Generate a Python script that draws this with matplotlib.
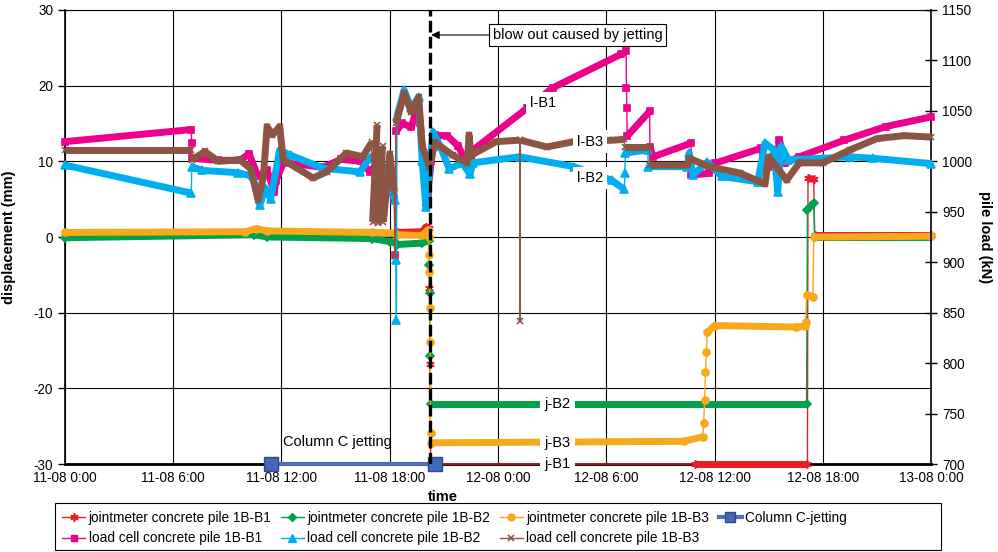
import numpy as np
import matplotlib
matplotlib.use('Agg')
import matplotlib.pyplot as plt
from matplotlib.lines import Line2D
from matplotlib.patches import Rectangle

plt.rcParams['font.family'] = ['Liberation Sans', 'DejaVu Sans']
plt.rcParams['axes.unicode_minus'] = False
plt.rcParams['font.size'] = 9.75

# hours since 11-08 0:00
time_ticks = [0, 6, 12, 18, 24, 30, 36, 42, 48]
time_labels = ['11-08 0:00', '11-08 6:00', '11-08 12:00', '11-08 18:00', '12-08 0:00',
               '12-08 6:00', '12-08 12:00', '12-08 18:00', '13-08 0:00']

# jointmeters (mm)
jb1_h = [0.0, 18.3, 18.4, 19.8, 20.0, 20.15, 20.2, 20.23, 20.27, 34.9, 41.15, 41.18, 41.5, 41.55, 48.0]
jb1_mm = [0.5, 0.5, 0.6, 0.7, 1.3, 1.2, -6.8, -16.8, -30.0, -30.0, -30.0, 7.8, 7.6, 0.2, 0.2]

jb2_h = [0.0, 10.5, 11.2, 17.0, 18.0, 18.3, 18.4, 19.8, 20.15, 20.19, 20.21, 20.24, 20.27,
         41.1, 41.15, 41.5, 41.55, 48.0]
jb2_mm = [-0.1, 0.3, 0.0, -0.2, -0.6, -0.7, -1.0, -0.8, -0.5, -3.7, -7.4, -15.7, -22.1,
          -22.1, 3.6, 4.5, 0.0, 0.0]

jb3_h = [0.0, 10.0, 10.6, 11.2, 17.0, 18.3, 18.4, 19.8, 20.1, 20.15, 20.18, 20.2, 20.22, 20.24,
         20.26, 20.28, 34.3, 35.35, 35.4, 35.45, 35.5, 35.55, 35.6, 36.0, 40.5, 41.0, 41.05,
         41.1, 41.45, 41.5, 48.0]
jb3_mm = [0.6, 0.7, 1.1, 0.8, 0.6, 0.5, 0.3, 0.2, 0.9, 0.0, -2.4, -4.6, -9.4, -13.9,
          -25.9, -27.2, -27.0, -26.4, -24.6, -21.5, -17.8, -15.2, -12.6, -11.7, -11.9, -11.8, -11.2,
          -7.6, -7.9, 0.0, 0.1]

colc_h = [11.4, 20.5]
colc_mm = [-30, -30]

# load cells (kN)
lb1_h = [0.0, 7.0, 7.02, 7.05, 8.5, 9.7, 10.2, 10.7, 11.2, 11.6, 11.7, 12.1, 13.0, 14.3, 15.3,
         16.4, 16.9, 17.3, 17.8, 18.25, 18.3, 18.35, 18.7, 19.2, 19.5, 19.7, 19.9, 20.1, 20.3,
         20.5, 21.2, 21.8, 22.45, 22.6, 25.6, 27.05, 30.8, 31.1, 31.12, 31.14, 31.16, 32.4,
         32.42, 32.6, 34.7, 34.72, 35.7, 36.0, 38.6, 38.8, 39.4, 39.6, 39.9, 40.7, 43.2, 45.5, 48.0]
lb1_kn = [1019.5, 1031.5, 1018, 1003, 1001, 1001, 1007.5, 985, 991, 970, 981, 998.5, 997, 994, 1002,
          1000, 989.5, 998, 981, 962.5, 907, 1030, 1037.5, 1034, 1052.5, 1037.5, 992.5, 968.5, 1000,
          1026, 1025, 1015, 992, 1011, 1052.5, 1073, 1106, 1109, 1073, 1052.5, 1025, 1049.5,
          1014, 1004.5, 1018, 986.5, 988, 998, 1013, 992, 996, 1021, 998, 1004.5, 1021, 1034.5, 1044]

lb2_h = [0.0, 7.0, 7.03, 7.6, 9.6, 10.4, 10.8, 11.1, 11.4, 11.9, 12.5, 14.3, 16.35, 16.9, 17.4,
         17.8, 18.1, 18.3, 18.34, 18.37, 18.4, 18.8, 19.2, 19.6, 19.8, 20.0, 20.2, 20.4, 20.8,
         21.3, 22.0, 22.45, 22.6, 25.2, 28.2, 30.3, 31.0, 31.03, 31.06, 32.3, 32.33, 34.5, 34.6,
         34.8, 35.6, 36.4, 38.4, 38.8, 39.3, 39.5, 39.7, 40.1, 42.0, 43.5, 44.8, 48.0]
lb2_kn = [996.25, 968.5, 994.75, 991, 988.75, 985, 956.5, 973.75, 962.5, 1011.25, 1006, 993.25,
          989.5, 1003.75, 1008.25, 981.25, 970, 961.75, 902.5, 842.5, 1045, 1070.5, 1052.5,
          1063.75, 1000, 955, 992.5, 1029.25, 1015, 992.5, 998.5, 987.25, 998.5, 1004.5, 994.75,
          981.25, 972.25, 988, 1008.25, 1011.25, 994.75, 994.75, 1008.25, 986.5, 999.25, 985,
          979.75, 1018, 1011.25, 970, 1015, 1001.5, 1003, 1004.5, 1003, 997.75]

lb3_h = [0.0, 7.0, 7.03, 7.76, 8.5, 9.7, 10.3, 10.7, 11.0, 11.2, 11.5, 11.9, 12.1, 13.75, 14.5,
         15.6, 16.5, 17.0, 17.05, 17.3, 17.35, 17.6, 17.65, 18.0, 18.25, 18.3, 18.35, 18.8, 19.2,
         19.6, 19.8, 20.2, 20.5, 21.5, 22.3, 22.4, 22.5, 23.9, 25.2, 25.22, 25.24, 26.7, 28.2,
         30.4, 31.0, 31.03, 32.4, 32.43, 34.5, 34.6, 35.7, 37.4, 38.8, 39.0, 39.5, 40.0, 40.7,
         42.0, 43.5, 45.0, 46.5, 48.0]
lb3_kn = [1011.25, 1011.25, 1001.5, 1009.75, 1000, 1001.5, 992.5, 961.75, 985, 1034.5, 1026.25,
          1034.5, 1001.5, 983.5, 989.5, 1008.25, 1004.5, 1018.75, 940, 1036, 938.5, 1015, 940,
          1007.5, 970, 906.25, 1037.5, 1067.5, 1048.75, 1063.75, 1015, 994.75, 1018.75, 1006,
          998.5, 1026.25, 1006, 1019.5, 1021, 842, 1021, 1014.25, 1019.5, 1021, 1021.75, 1014.25,
          1014.25, 996.25, 996.25, 1003, 994.75, 988.4, 977.5, 1004.5, 993.25, 981.25, 998.5,
          998.5, 1011.25, 1022.5, 1025.5, 1024]

RED, GREEN, ORANGE = '#ED1C24', '#00A14B', '#F7A81B'
PINK, CYAN, BROWN, BLUE = '#EC008C', '#00AEEF', '#8C5442', '#4A6EB8'


def draw(ax, h, v, color, marker, ms, z, thin=()):
    h = np.asarray(h, float)
    v = np.asarray(v, float)
    ax.plot(h, v, color=color, lw=1.0, zorder=z, clip_on=False)
    run = []
    for i in range(len(h) - 1):
        dense = h[i + 1] - h[i] >= 0.06 and not any(a <= h[i] and h[i + 1] <= b for a, b in thin)
        if dense:
            if not run:
                run = [i]
            run.append(i + 1)
        elif run:
            ax.plot(h[run], v[run], color=color, lw=5, zorder=z, clip_on=False,
                    solid_joinstyle='round', solid_capstyle='butt')
            run = []
    if run:
        ax.plot(h[run], v[run], color=color, lw=5, zorder=z, clip_on=False,
                solid_joinstyle='round', solid_capstyle='butt')
    ax.plot(h, v, ls='none', marker=marker, ms=ms, color=color, mew=1.2, zorder=z, clip_on=False)


fig = plt.figure(figsize=(9.98, 5.52), dpi=100)
ax = fig.add_axes([0.0651, 0.1594, 0.8678, 0.8225])
ax2 = ax.twinx()

draw(ax, jb1_h, jb1_mm, RED, (6, 2, 0), 6, 4, thin=[(20.27, 34.9)])
draw(ax, jb2_h, jb2_mm, GREEN, 'D', 4, 4.1)
draw(ax, jb3_h, jb3_mm, ORANGE, 'o', 5, 4.2)
ax.plot(colc_h, colc_mm, color=BLUE, lw=3, marker='s', ms=10.5, mfc='#4567B8', mec='#2F4A8A',
        zorder=5, clip_on=False)

draw(ax2, lb1_h, lb1_kn, PINK, 's', 5, 3)
draw(ax2, lb2_h, lb2_kn, CYAN, '^', 5.5, 3.1)
draw(ax2, lb3_h, lb3_kn, BROWN, 'x', 5, 3.2)

ax.set_xlim(0, 48)
ax.set_ylim(-30, 30)
ax.set_yticks(range(-30, 31, 10))
ax.set_xticks(time_ticks)
ax.set_xticklabels(time_labels)
ax.grid(True, color='black', lw=0.8)
ax.tick_params(axis='x', length=0, pad=5)
ax.tick_params(axis='y', direction='out', length=5, width=1)
ax.spines['bottom'].set_linewidth(2)
ax.spines['left'].set_linewidth(1.2)
ax.spines['top'].set_linewidth(0.8)
ax.spines['right'].set_visible(False)

ax2.set_ylim(700, 1150)
ax2.set_yticks(range(700, 1151, 50))
ax2.tick_params(axis='y', direction='inout', length=9, width=1)
for s in ['left', 'top', 'bottom']:
    ax2.spines[s].set_visible(False)
ax2.spines['right'].set_linewidth(1.2)

ax.set_ylabel('displacement (mm)', fontweight='bold', fontsize=10.5)
ax.yaxis.set_label_coords(-0.056, 0.5)
ax2.set_ylabel('pile load (kN)', fontweight='bold', fontsize=10.5, rotation=270, va='center')
ax2.yaxis.set_label_coords(1.062, 0.5)
ax.set_xlabel('time', fontweight='bold', fontsize=10.5)
ax.xaxis.set_label_coords(0.436, -0.058)

ax2.axvline(20.23, color='black', lw=2.4, dashes=(3.5, 1.3), zorder=8)

lab = dict(ha='center', va='center', zorder=9, fontsize=10.5,
           bbox=dict(boxstyle='square,pad=0.3', fc='white', ec='none'))
ax2.text(26.5, 1057.75, 'l-B1', **lab)
ax2.text(29.1, 1019.5, 'l-B3', **lab)
ax2.text(29.1, 983.5, 'l-B2', **lab)
ax.text(27.3, -22.1, 'j-B2', **lab)
ax.text(27.3, -27.2, 'j-B3', **lab)
ax.text(27.3, -30.0, 'j-B1', **lab)
ax.text(12.1, -27.05, 'Column C jetting', ha='left', va='center', zorder=9, fontsize=10.5)

ax2.annotate('blow out caused by jetting', xy=(20.3, 1125.2), xytext=(28.4, 1125.2),
             ha='center', va='center', zorder=9, fontsize=10.5,
             bbox=dict(boxstyle='square,pad=0.25', fc='white', ec='black', lw=0.8),
             arrowprops=dict(arrowstyle='-|>', color='black', lw=0.8, mutation_scale=12,
                             relpos=(0, 0.5), shrinkA=0, shrinkB=0))

handles = [
    Line2D([], [], color=RED, marker=(6, 2, 0), ms=6, mew=1.2, lw=1),
    Line2D([], [], color=PINK, marker='s', ms=5, lw=1),
    Line2D([], [], color=GREEN, marker='D', ms=4, lw=1),
    Line2D([], [], color=CYAN, marker='^', ms=5.5, lw=1),
    Line2D([], [], color=ORANGE, marker='o', ms=5, lw=1),
    Line2D([], [], color=BROWN, marker='x', ms=5, mew=1.2, lw=1),
    Line2D([], [], color=BLUE, marker='s', ms=7, mfc='#4567B8', mec='#2F4A8A', lw=3),
]
labels = ['jointmeter concrete pile 1B-B1', 'load cell concrete pile 1B-B1',
          'jointmeter concrete pile 1B-B2', 'load cell concrete pile 1B-B2',
          'jointmeter concrete pile 1B-B3', 'load cell concrete pile 1B-B3',
          'Column C-jetting']
fig.patches.append(Rectangle((0.0551, 0.0036), 0.8878, 0.0851, transform=fig.transFigure,
                             fill=False, ec='black', lw=0.8))
fig.legend(handles, labels, ncol=4, loc='upper left', bbox_to_anchor=(0.0621, 0.074),
           frameon=False, handlelength=1.7, handletextpad=0.25, columnspacing=0.7,
           borderaxespad=0, borderpad=0, fontsize=9.8, labelspacing=0.45)

fig.savefig('out.png', dpi=100)
